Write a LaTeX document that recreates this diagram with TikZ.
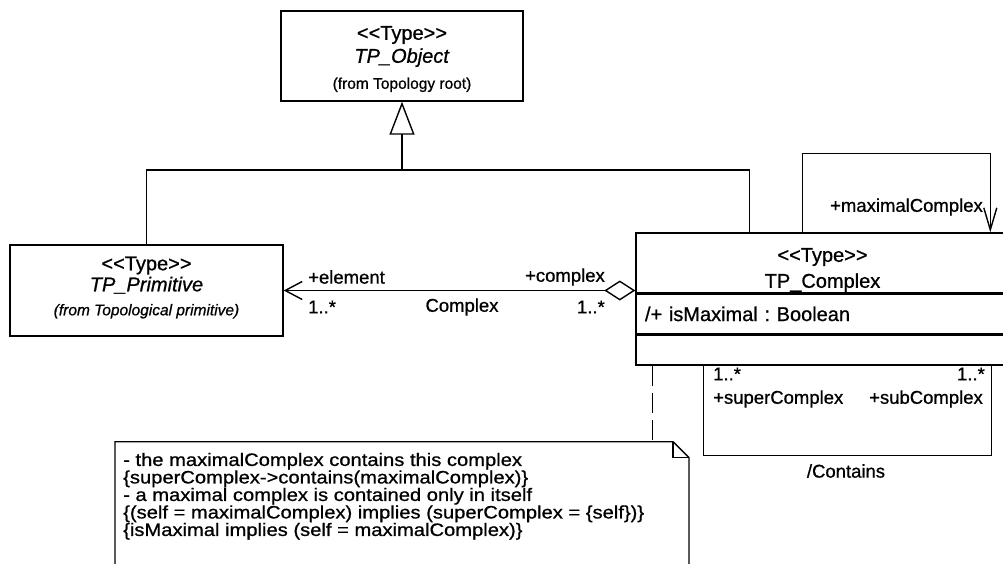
\documentclass[tikz,border=0pt]{standalone}
\usepackage{fontspec}
\setmainfont{Liberation Sans}[FakeBold=0.8]
\newfontfamily\notefamily{Liberation Sans}[FakeBold=0.8, FakeStretch=1.12]
\usetikzlibrary{arrows.meta,calc,positioning}

\newcommand{\typetag}{<\kern0pt<Type>\kern0pt>}
\newcommand{\fromfont}{\fontsize{15.5}{17}\selectfont}
\newcommand{\notefont}{\notefamily\fontsize{18}{17.5}\selectfont\lineskiplimit=-20pt\relax}
\frenchspacing

\tikzset{
  uml/.style={line width=1.4pt},
  classbox/.style={draw, uml, fill=white, inner sep=0pt},
  classtext/.style={align=center, inner sep=0pt, font=\fontsize{20}{24}\selectfont},
  rolelabel/.style={inner sep=0pt, font=\fontsize{18.5}{20}\selectfont},
  notetext/.style={inner xsep=8pt, inner ysep=11pt, align=left, font=\notefont},
  genarrow/.style={-{Triangle[open, length=33pt, width=25pt]}},
  selfarrow/.style={-{Straight Barb[length=22pt, width=13pt]}},
  aggrarrow/.style={{Diamond[open, length=31pt, width=20pt]}-{Straight Barb[length=17pt, width=18pt]}},
  anchorline/.style={uml, dash pattern=on 20pt off 7pt}
}

\begin{document}
\begin{tikzpicture}[x=1pt,y=-1pt]
        \useasboundingbox (0,0) rectangle (1003,564);
        \clip (0,0) rectangle (1003,564);

        % Classes
        \node[classbox, minimum width=242pt, minimum height=90pt,
            label={[classtext, yshift=-3pt]center:{\typetag\\[-1pt]\textit{TP\_Object}\\[2pt]{\fromfont (from Topology root)}}}]
            (object) at (402,56) {};
        \node[classbox, minimum width=273pt, minimum height=91pt,
            label={[classtext, yshift=3pt]center:{\typetag\\[-3pt]\textit{TP\_Primitive}\\[0pt]{\fromfont\itshape (from Topological primitive)}}}]
            (primitive) at (146.5,290.5) {};

        % TP_Complex with its compartments
        \node[classbox, minimum width=373pt, minimum height=60pt,
            label={[classtext, yshift=-7pt]center:{\typetag\\[2pt]TP\_Complex}}]
            (complex) at (822.5,263) {};
        \node[classbox, anchor=north west, minimum width=373pt, minimum height=39pt,
            text width=355pt, inner xsep=9pt, align=left, font=\fontsize{20}{24}\selectfont]
            (cplxattr) at (complex.south west) {/+ isMaximal : Boolean};
        \node[classbox, anchor=north west, minimum width=373pt, minimum height=30pt]
            (cplxops) at (cplxattr.south west) {};

        % Generalization
        \coordinate (genjoint) at (402,170);
        \draw[uml, genarrow] (genjoint) -- (object.south);
        \draw[uml] (primitive.north) |- (genjoint) -| ($(complex.north west)+(114,0)$);

        % Complex aggregation
        \draw[uml, aggrarrow] (complex.west |- primitive.east) -- (primitive.east);
        \node[rolelabel, anchor=west] (elemrole) at (308,277) {+element};
        \node[rolelabel, anchor=west] (elemmult) at (308,307) {1..*};
        \node[rolelabel] (assocname) at (462,307) {Complex};
        \node[rolelabel, anchor=east] (cplxrole) at (605,277) {+complex};
        \node[rolelabel, anchor=east] (cplxmult) at (605,307) {1..*};

        % maximalComplex
        \draw[uml, selfarrow] ($(complex.north west)+(167,0)$) -- ++(0,-79)
            -| ($(complex.north west)+(355,0)$);
        \node[rolelabel, anchor=east] (maxrole) at (983,207) {+maximalComplex};

        % Contains
        \draw[uml] ($(cplxops.south west)+(68,0)$) -- ++(0,90)
            -| ($(cplxops.south west)+(356,0)$);
        \node[rolelabel, anchor=west] (supmult) at (713,374) {1..*};
        \node[rolelabel, anchor=west] (suprole) at (713,399) {+superComplex};
        \node[rolelabel, anchor=east] (submult) at (985,374) {1..*};
        \node[rolelabel, anchor=east] (subrole) at (983,399) {+subComplex};
        \node[rolelabel] (containsname) at (846,471) {/Contains};

        % Note
        \node[notetext, anchor=north west] (note) at (115,441.7)
            {- the maximalComplex contains this complex\\
             \{superComplex->contains(maximalComplex)\}\\
             - a maximal complex is contained only in itself\\
             \{(self = maximalComplex) implies (superComplex = \{self\})\}\\
             \{isMaximal implies (self = maximalComplex)\}};
        \draw[uml] ($(note.north west)+(0,140)$) -- (note.north west)
            -- ($(note.north west)+(558,0)$) -- ++(16,16) -- ++(0,124);
        \draw[uml] ($(note.north west)+(558,0)$) |- ++(16,16);
        \coordinate (noteanchor) at ($(cplxops.south west)+(17,0)$);
        \draw[anchorline] (noteanchor) -- (noteanchor |- note.north);
\end{tikzpicture}
\end{document}
